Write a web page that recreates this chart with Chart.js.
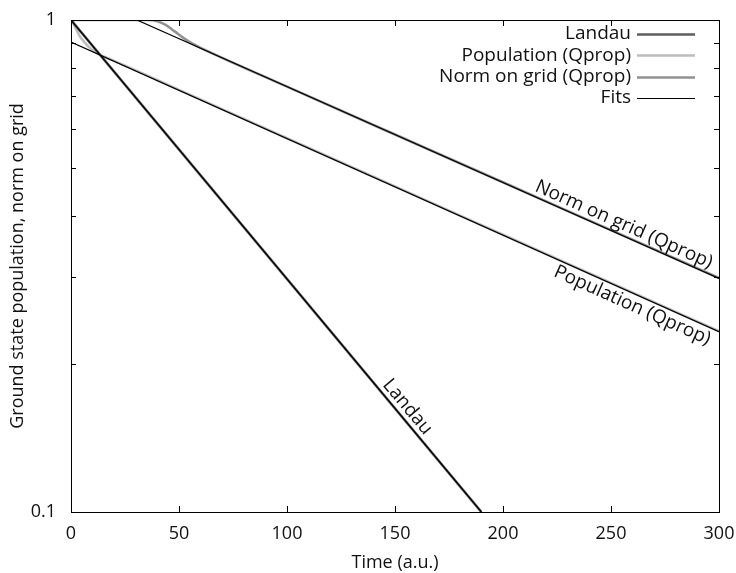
<!DOCTYPE html>
<html>
<head>
<meta charset="utf-8">
<script src="https://cdn.jsdelivr.net/npm/chart.js@4.4.0/dist/chart.umd.min.js"></script>
<style>
  html, body { margin: 0; padding: 0; background: #fff; }
</style>
</head>
<body>
<canvas id="chart" width="736" height="573"></canvas>
<script>
// axis ticks
const xTicks = [0, 50, 100, 150, 200, 250, 300];
const yTicks = [0.1, 1];
const yMinorTicks = [0.2, 0.3, 0.4, 0.5, 0.6, 0.7, 0.8, 0.9];

// simulated curves, time in a.u.
const landauT = [0, 190];
const landauVal = [1, 0.1];

const popT = [0, 1, 2, 3, 4, 6, 8, 10, 12, 15, 20, 50, 100, 150, 200, 250, 300];
const popVal = [1, 0.985, 0.966, 0.946, 0.928, 0.904, 0.884, 0.868, 0.856, 0.843, 0.826, 0.721, 0.575, 0.459, 0.366, 0.292, 0.233];

const normT = [0, 36, 40, 44, 48, 52, 56, 60, 100, 150, 200, 250, 300];
const normVal = [1, 1, 0.994, 0.976, 0.948, 0.92, 0.896, 0.878, 0.732, 0.585, 0.468, 0.374, 0.299];

// exponential fits (straight lines on the log axis)
const fitLandauT = [0, 190];
const fitLandauVal = [1, 0.1];
const fitPopT = [0, 300];
const fitPopVal = [0.902, 0.2325];
const fitNormT = [30.5, 300];
const fitNormVal = [1, 0.2985];

const FONT = '"Open Sans", "Noto Sans", sans-serif';

const pts = (ts, vs) => ts.map((t, i) => ({ x: t, y: vs[i] }));

const curve = (label, ts, vs, color) => ({
  label, data: pts(ts, vs),
  borderColor: color, borderWidth: 2.6,
  pointRadius: 0, fill: false, order: 1,
  cubicInterpolationMode: 'monotone'
});

const fit = (id, ts, vs) => ({
  label: 'Fits', fitId: id, data: pts(ts, vs),
  borderColor: '#000', borderWidth: 1.2,
  pointRadius: 0, fill: false, order: 0
});

// text written along the fit lines
const lineLabels = [
  { text: 'Norm on grid (Qprop)', fitId: 'norm', t: 254, side: 'above' },
  { text: 'Population (Qprop)', fitId: 'pop', t: 262, side: 'below' },
  { text: 'Landau', fitId: 'landau', t: 152, side: 'above' }
];

// box around the plot with inward tick marks
const framePlugin = {
  id: 'frame',
  afterDatasetsDraw(chart) {
    const { ctx, chartArea: a, scales: { x, y } } = chart;
    ctx.save();
    ctx.strokeStyle = '#000';
    ctx.lineWidth = 1;
    ctx.strokeRect(Math.round(a.left) + 0.5, Math.round(a.top) + 0.5,
      Math.round(a.right - a.left), Math.round(a.bottom - a.top));
    ctx.beginPath();
    xTicks.forEach(v => {
      const px = Math.round(x.getPixelForValue(v)) + 0.5;
      ctx.moveTo(px, a.bottom); ctx.lineTo(px, a.bottom - 6);
      ctx.moveTo(px, a.top); ctx.lineTo(px, a.top + 6);
    });
    yTicks.concat(yMinorTicks).forEach(v => {
      const len = yTicks.includes(v) ? 6 : 5;
      const py = Math.round(y.getPixelForValue(v)) + 0.5;
      ctx.moveTo(a.left, py); ctx.lineTo(a.left + len, py);
      ctx.moveTo(a.right, py); ctx.lineTo(a.right - len, py);
    });
    ctx.stroke();
    ctx.restore();
  }
};

// legend in the upper right corner: text, then a line sample
const legendPlugin = {
  id: 'cornerLegend',
  afterDraw(chart) {
    const { ctx } = chart;
    const seen = new Set();
    const items = [];
    chart.data.datasets.forEach(ds => {
      if (seen.has(ds.label)) return;
      seen.add(ds.label);
      items.push(ds);
    });
    const order = ['Landau', 'Population (Qprop)', 'Norm on grid (Qprop)', 'Fits'];
    items.sort((p, q) => order.indexOf(p.label) - order.indexOf(q.label));
    ctx.save();
    ctx.font = '19px ' + FONT;
    ctx.fillStyle = '#111';
    ctx.textAlign = 'right';
    ctx.textBaseline = 'middle';
    items.forEach((ds, i) => {
      const yy = 34 + i * 21.3;
      ctx.fillText(ds.label, 631, yy);
      ctx.beginPath();
      ctx.strokeStyle = ds.borderColor;
      ctx.lineWidth = ds.borderWidth;
      ctx.moveTo(637, Math.round(yy) + 0.5);
      ctx.lineTo(695, Math.round(yy) + 0.5);
      ctx.stroke();
    });
    ctx.restore();
  }
};

const lineLabelPlugin = {
  id: 'lineLabels',
  afterDatasetsDraw(chart) {
    const { ctx, scales: { x, y } } = chart;
    ctx.save();
    ctx.font = '19px ' + FONT;
    ctx.fillStyle = '#111';
    ctx.textAlign = 'center';
    lineLabels.forEach(lb => {
      const ds = chart.data.datasets.find(d => d.fitId === lb.fitId);
      const p0 = ds.data[0], p1 = ds.data[ds.data.length - 1];
      const x0 = x.getPixelForValue(p0.x), y0 = y.getPixelForValue(p0.y);
      const x1 = x.getPixelForValue(p1.x), y1 = y.getPixelForValue(p1.y);
      const ang = Math.atan2(y1 - y0, x1 - x0);
      const px = x.getPixelForValue(lb.t);
      const py = y0 + (px - x0) * (y1 - y0) / (x1 - x0);
      ctx.save();
      ctx.translate(px, py);
      ctx.rotate(ang);
      if (lb.side === 'above') {
        ctx.textBaseline = 'bottom';
        ctx.fillText(lb.text, 0, -1);
      } else {
        ctx.textBaseline = 'top';
        ctx.fillText(lb.text, 0, 2);
      }
      ctx.restore();
    });
    ctx.restore();
  }
};

new Chart(document.getElementById('chart'), {
  type: 'line',
  data: {
    datasets: [
      curve('Landau', landauT, landauVal, '#5e5e5e'),
      curve('Population (Qprop)', popT, popVal, '#bdbdbd'),
      curve('Norm on grid (Qprop)', normT, normVal, '#929292'),
      fit('landau', fitLandauT, fitLandauVal),
      fit('pop', fitPopT, fitPopVal),
      fit('norm', fitNormT, fitNormVal)
    ]
  },
  options: {
    responsive: false,
    animation: false,
    devicePixelRatio: 1,
    layout: { padding: { top: 20, right: 17, left: 0, bottom: 0 } },
    plugins: { legend: { display: false }, tooltip: { enabled: false } },
    scales: {
      x: {
        type: 'linear', min: 0, max: 300,
        grid: { display: false, drawTicks: false },
        border: { display: false },
        afterBuildTicks: s => { s.ticks = xTicks.map(v => ({ value: v })); },
        afterFit: s => { s.height = 61; s.paddingLeft = 0; s.paddingRight = 0; },
        ticks: { color: '#111', font: { family: FONT, size: 18 }, padding: 11, maxRotation: 0, autoSkip: false },
        title: { display: true, text: 'Time (a.u.)', color: '#111', font: { family: FONT, size: 18 }, padding: { top: 0, bottom: -1 } }
      },
      y: {
        type: 'logarithmic', min: 0.1, max: 1,
        grid: { display: false, drawTicks: false },
        border: { display: false },
        afterBuildTicks: s => { s.ticks = yTicks.map(v => ({ value: v })); },
        afterFit: s => { s.width = 71; s.paddingTop = 0; s.paddingBottom = 0; },
        ticks: { color: '#111', font: { family: FONT, size: 18 }, padding: 15, callback: v => String(v) },
        title: { display: true, text: 'Ground state population, norm on grid', color: '#111', font: { family: FONT, size: 18 }, padding: { top: 7, bottom: 0 } }
      }
    }
  },
  plugins: [framePlugin, legendPlugin, lineLabelPlugin]
});
</script>
</body>
</html>
